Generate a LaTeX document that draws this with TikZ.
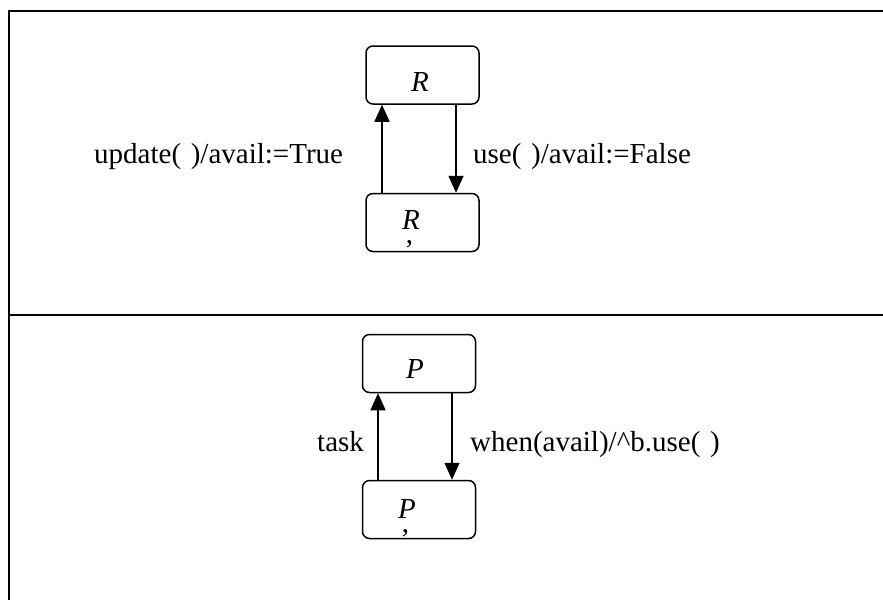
\documentclass[tikz,border=0pt]{standalone}
\usepackage{fontspec}
\setmainfont{Liberation Serif}
\usetikzlibrary{arrows.meta}
\newcommand{\primecomma}{\makebox[0pt][l]{\hspace*{-14pt}\raisebox{-14pt}{\upshape ,}}}
\begin{document}
\begin{tikzpicture}[x=1pt,y=-1pt,
  statebox/.style={draw,line width=1.5pt,rounded corners=7pt,minimum width=113pt,minimum height=58pt,inner sep=0pt},
  lbl/.style={anchor=base west,inner sep=0pt,font=\fontsize{29}{30}\selectfont},
  letter/.style={anchor=base,inner sep=0pt,font=\fontsize{29}{30}\selectfont\itshape},
  trans/.style={line width=1.5pt,-{Triangle[width=15pt,length=17pt]}},
  frame/.style={line width=2.2pt}]
\useasboundingbox (0,0) rectangle (883,600);
% frame
\coordinate (tl) at (9,11);
\coordinate (tr) at (883,11);
\coordinate (bl) at (9,600);
\coordinate (ml) at (9,315);
\coordinate (mr) at (883,315);
\draw[frame] (tr) -- (tl) -- (bl);
\draw[frame] (ml) -- (mr);
% top panel
\node[statebox] (Rt) at (422.5,75) {};
\node[statebox] (Rb) at (422.5,222.5) {};
\node[letter] (Rtl) at (420,91) {R};
\node[letter] (Rbl) at (411,229) {R\primecomma};
\draw[trans] (Rb.north -| 382,0) -- (Rt.south -| 382,0);
\draw[trans] (Rt.south -| 456,0) -- (Rb.north -| 456,0);
\node[lbl] (upd) at (94,163) {update(\,\,)/avail:=True};
\node[lbl] (use) at (473,163) {use(\,\,)/avail:=False};
% bottom panel
\node[statebox] (Pt) at (419,363.5) {};
\node[statebox] (Pb) at (419,509.5) {};
\node[letter] (Ptl) at (415,378) {P};
\node[letter] (Pbl) at (407,518) {P\primecomma};
\draw[trans] (Pb.north -| 378,0) -- (Pt.south -| 378,0);
\draw[trans] (Pt.south -| 452,0) -- (Pb.north -| 452,0);
\node[lbl] (task) at (317,451) {task};
\node[lbl] (when) at (470,451) {when(avail)/\textasciicircum b.use(\,\,)};
\end{tikzpicture}
\end{document}
